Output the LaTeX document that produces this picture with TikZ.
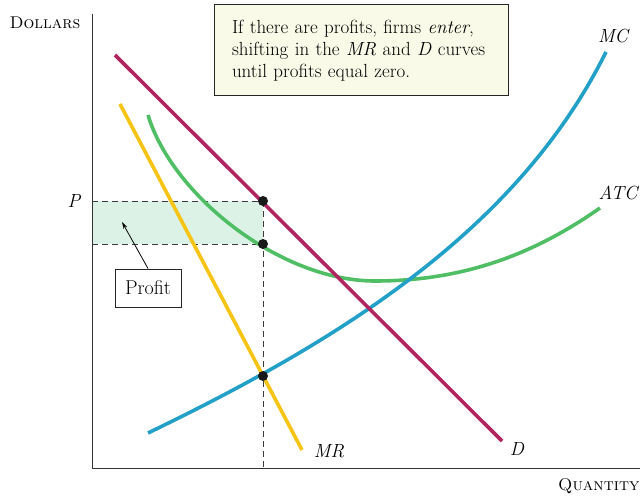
\documentclass[tikz,border=0pt]{standalone}
\usepackage{fontspec}
\usepackage{tikz}
\usetikzlibrary{arrows.meta}
\definecolor{ColD}   {RGB}{176,36,96}
\definecolor{ColMR}  {RGB}{246,196,20}
\definecolor{ColMC}  {RGB}{35,160,200}
\definecolor{ColATC} {RGB}{80,190,100}
\definecolor{NoteBg} {RGB}{250,250,232}
\definecolor{ProfBg} {RGB}{221,242,230}
\definecolor{DashCol}{RGB}{60,60,60}
\tikzset{
  crv/.style={line width=3.6pt},
  axis_ln/.style={line width=1pt,draw=black!80},
  guide/.style={line width=1pt,draw=DashCol,dash pattern=on 6pt off 4pt},
  pt_dot/.style={circle,fill=black!90,minimum size=10pt,inner sep=0pt},
  lbl/.style={font=\fontsize{19}{20}\selectfont\itshape},
  ax_lbl/.style={font=\fontsize{17}{18}\selectfont\scshape},
  nd_note/.style={rectangle,draw=black!85,line width=1pt,fill=NoteBg,text width=258pt,inner xsep=18pt,minimum height=91pt,align=left,font=\fontsize{19}{22}\selectfont},
  nd_box/.style={rectangle,draw=black!85,line width=1pt,fill=white,minimum width=66pt,minimum height=38pt,inner xsep=4pt,font=\fontsize{20}{22}\selectfont},
  arr/.style={-{Stealth[length=7pt,width=4pt]},line width=0.8pt},
}
\begin{document}
\begin{tikzpicture}[x=1pt,y=-1pt]
\useasboundingbox (0,0) rectangle (640,500);
% axes
\coordinate (O) at (92,468);
\coordinate (yTop) at (92,14);
\coordinate (xEnd) at (640,468);
\node[ax_lbl,anchor=west] at (6,23)(yl){Dollars};
\node[ax_lbl,anchor=east] at (643,486)(xl){Quantity};
% profit area
\coordinate (pP) at (92,201);
\coordinate (pC) at (92,244);
\coordinate (pQ) at (263,468);
\coordinate (onD) at (263,201);
\coordinate (onATC) at (263,244);
\coordinate (onMC) at (263,376);
\fill[ProfBg](pP) rectangle (onATC);
\draw[guide](pP)--(onD);
\draw[guide](pC)--(onATC);
\draw[guide](onD)--(pQ);
\draw[axis_ln](yTop)--(O)--(xEnd);
\node[lbl] at (74,201)(P){P};
% curves
\coordinate (d0) at (115,55);  \coordinate (d1) at (502,441);
\coordinate (mr0) at (120,104);\coordinate (mr1) at (302,450);
\draw[crv,ColATC](148,115) .. controls (172,195) and (280,281) .. (375,281)
  .. controls (470,281) and (540,250) .. (600,208);
\draw[crv,ColMR](mr0)--(mr1);
\draw[crv,ColMC](148,433) .. controls (330,345) and (515,235) .. (606,52);
\draw[crv,ColD](d0)--(d1);
\node[lbl] at (613,36)(lMC){MC};
\node[lbl] at (618,193)(lATC){ATC};
\node[lbl] at (517,449)(lD){D};
\node[lbl] at (329,451)(lMR){MR};
% dots
\node[pt_dot] at (onD)(k1){};
\node[pt_dot] at (onATC)(k2){};
\node[pt_dot] at (onMC)(k3){};
% notes
\node[nd_note] at (361,50.5)(note){If there are profits, firms \emph{enter},\\shifting in the \emph{MR} and \emph{D} curves\\until profits equal zero.};
\node[nd_box] at (148,288)(prof){Profit};
\coordinate (profTip) at (122,222);
\draw[arr](prof.north)--(profTip);
\end{tikzpicture}
\end{document}
